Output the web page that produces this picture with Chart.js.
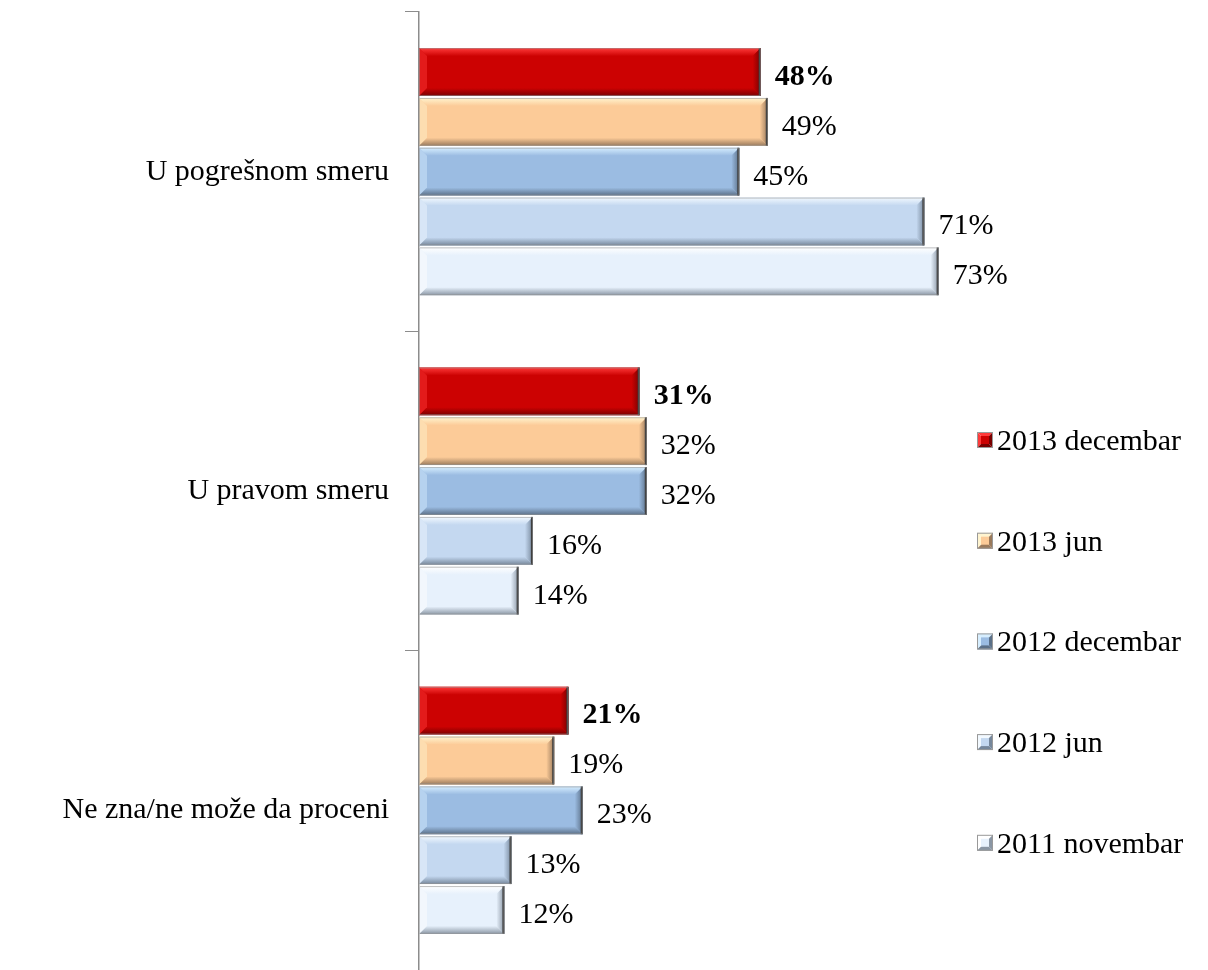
<!DOCTYPE html>
<html>
<head>
<meta charset="utf-8">
<script src="https://cdn.jsdelivr.net/npm/chart.js@4/dist/chart.umd.min.js"></script>
<style>
html, body { margin: 0; padding: 0; background: #fff; }
#wrap { width: 1208px; height: 970px; }
</style>
</head>
<body>
<div id="wrap"><canvas id="Chart"></canvas></div>
<script>
// kategorije i serije
const categories = ['U pogrešnom smeru', 'U pravom smeru', 'Ne zna/ne može da proceni'];
const seriesNames = ['2013 decembar', '2013 jun', '2012 decembar', '2012 jun', '2011 novembar'];
const dec2013 = [48, 31, 21];
const jun2013 = [49, 32, 19];
const dec2012 = [45, 32, 23];
const jun2012 = [71, 16, 13];
const nov2011 = [73, 14, 12];

// boje: osnovna, svetla (gore), tamna (dole)
const colors = [
	{ main: '#CC0202', light: '#FF3A3A', dark: '#7A0000' },
	{ main: '#FCCB98', light: '#FFF4CF', dark: '#9A7A5C' },
	{ main: '#9BBCE2', light: '#D6EEFF', dark: '#5B7088' },
	{ main: '#C4D8F0', light: '#F2F9FF', dark: '#76879B' },
	{ main: '#E7F1FC', light: '#FFFFFF', dark: '#8A96A4' }
];

const FONT = '"Liberation Serif", "Times New Roman", serif';
const FSIZE = 30;

//bevel efekat na stupcima
const bevelPlugin = {
	id: 'bevel',
	afterDatasetsDraw(chart) {
		const ctx = chart.ctx;
		chart.data.datasets.forEach((ds, i) => {
			const c = colors[i];
			chart.getDatasetMeta(i).data.forEach((bar) => {
				const L = bar.base, R = bar.x;
				const T = bar.y - bar.height / 2, B = bar.y + bar.height / 2;
				const b = 8;
				ctx.save();
				// gore
				let g = ctx.createLinearGradient(0, T, 0, T + b);
				g.addColorStop(0, c.light);
				g.addColorStop(1, c.main);
				ctx.fillStyle = g;
				ctx.beginPath();
				ctx.moveTo(L, T); ctx.lineTo(R, T); ctx.lineTo(R - b, T + b); ctx.lineTo(L + b, T + b);
				ctx.closePath(); ctx.fill();
				// dole
				g = ctx.createLinearGradient(0, B - b, 0, B);
				g.addColorStop(0, c.main);
				g.addColorStop(1, c.dark);
				ctx.fillStyle = g;
				ctx.beginPath();
				ctx.moveTo(L, B); ctx.lineTo(R, B); ctx.lineTo(R - b, B - b); ctx.lineTo(L + b, B - b);
				ctx.closePath(); ctx.fill();
				// desno
				g = ctx.createLinearGradient(R - b, 0, R, 0);
				g.addColorStop(0, c.main);
				g.addColorStop(1, c.dark);
				ctx.fillStyle = g;
				ctx.beginPath();
				ctx.moveTo(R, T); ctx.lineTo(R, B); ctx.lineTo(R - b, B - b); ctx.lineTo(R - b, T + b);
				ctx.closePath(); ctx.fill();
				// levo
				ctx.fillStyle = c.light;
				ctx.globalAlpha = 0.45;
				ctx.beginPath();
				ctx.moveTo(L, T); ctx.lineTo(L, B); ctx.lineTo(L + b, B - b); ctx.lineTo(L + b, T + b);
				ctx.closePath(); ctx.fill();
				ctx.globalAlpha = 1;
				// ivica desno
				ctx.fillStyle = '#3a3a3a';
				ctx.fillRect(R - 2, T, 2, B - T);
				ctx.strokeStyle = 'rgba(150,150,150,0.6)';
				ctx.lineWidth = 1;
				ctx.strokeRect(L + 0.5, T + 0.5, R - L - 1, B - T - 1);
				ctx.restore();
			});
		});
	}
};

//procenti pored stubaca
const labelPlugin = {
	id: 'barLabels',
	afterDatasetsDraw(chart) {
		const ctx = chart.ctx;
		ctx.save();
		ctx.fillStyle = '#000';
		ctx.textBaseline = 'middle';
		chart.data.datasets.forEach((ds, i) => {
			ctx.font = (i === 0 ? 'bold ' : '') + FSIZE + 'px ' + FONT;
			chart.getDatasetMeta(i).data.forEach((bar, j) => {
				ctx.fillText(ds.data[j] + '%', bar.x + 14, bar.y + 5);
			});
		});
		ctx.restore();
	}
};

//legenda
const legendPlugin = {
	id: 'sideLegend',
	afterDraw(chart) {
		const ctx = chart.ctx;
		ctx.save();
		ctx.font = FSIZE + 'px ' + FONT;
		ctx.textBaseline = 'middle';
		chart.data.datasets.forEach((ds, i) => {
			const c = colors[i];
			const x = 977, s = 16;
			const y = 440 + i * 100.7 - s / 2;
			const cx = x + s / 2, cy = y + s / 2;
			const tri = (pts, col) => {
				ctx.fillStyle = col;
				ctx.beginPath();
				ctx.moveTo(pts[0], pts[1]); ctx.lineTo(pts[2], pts[3]); ctx.lineTo(cx, cy);
				ctx.closePath(); ctx.fill();
			};
			tri([x, y, x + s, y], c.light);
			tri([x, y, x, y + s], c.light);
			tri([x + s, y, x + s, y + s], c.dark);
			tri([x, y + s, x + s, y + s], c.dark);
			ctx.fillStyle = c.main;
			ctx.fillRect(x + 4, y + 4, s - 8, s - 8);
			ctx.strokeStyle = '#999';
			ctx.lineWidth = 1;
			ctx.strokeRect(x + 0.5, y + 0.5, s - 1, s - 1);
			ctx.fillStyle = '#000';
			ctx.fillText(ds.label, x + s + 4, y + s / 2 + 2);
		});
		ctx.restore();
	}
};

const allSeries = [dec2013, jun2013, dec2012, jun2012, nov2011];

let lineCtx = document.getElementById('Chart');
let config = {
	type: 'bar',
	data: {
		labels: categories,
		datasets: allSeries.map((d, i) => ({
			label: seriesNames[i],
			data: d,
			backgroundColor: colors[i].main,
			borderWidth: 0,
			categoryPercentage: 0.78,
			barPercentage: 0.96
		}))
	},
	options: {
		indexAxis: 'y',
		responsive: true,
		maintainAspectRatio: false,
		animation: false,
		layout: { padding: { left: 14, right: 248, top: 12, bottom: 0 } },
		plugins: {
			legend: { display: false },
			tooltip: { enabled: false }
		},
		scales: {
			x: {
				display: false,
				min: 0,
				max: 76
			},
			y: {
				afterFit(scale) {
					scale.width = 405;
					scale.paddingTop = 0;
					scale.paddingBottom = 0;
				},
				grid: {
					drawOnChartArea: false,
					drawTicks: true,
					tickLength: 14,
					color: '#8c8c8c'
				},
				border: { color: '#8c8c8c', width: 1.5 },
				ticks: {
					color: '#000',
					padding: 16,
					font: { family: FONT, size: FSIZE }
				}
			}
		}
	},
	plugins: [bevelPlugin, labelPlugin, legendPlugin]
};
let chart = new Chart(lineCtx, config);
</script>
</body>
</html>
